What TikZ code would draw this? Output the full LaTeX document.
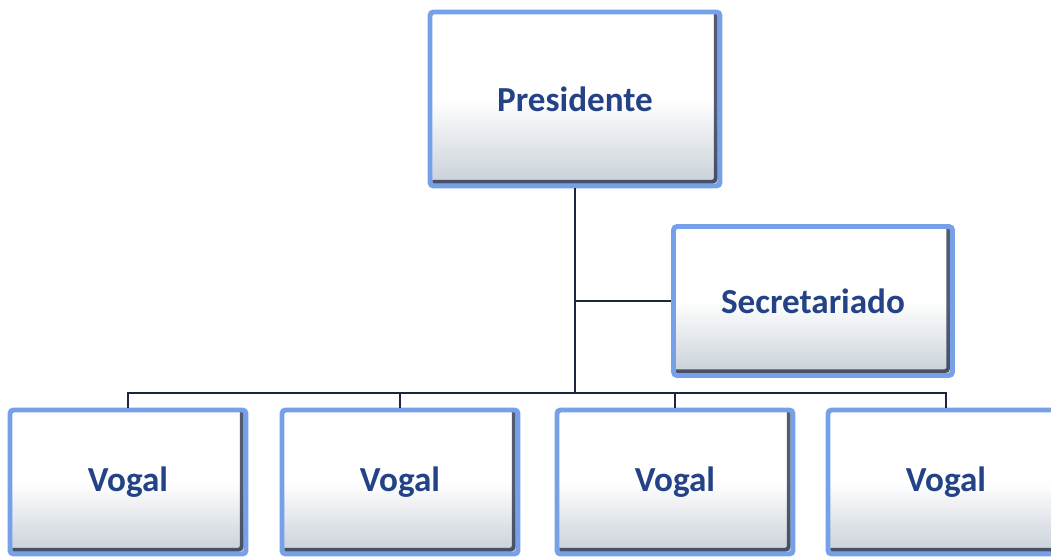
\documentclass[tikz,border=0pt]{standalone}
\usepackage{fontspec}
\setmainfont{Carlito}
\usepackage{tikz}
\usetikzlibrary{positioning}
\definecolor{glow}{RGB}{118,160,232}
\definecolor{txtblue}{RGB}{36,66,134}
\definecolor{edge}{RGB}{28,38,62}
\definecolor{boxgray}{RGB}{200,207,216}

\begin{document}
\begin{tikzpicture}[x=0.02cm,y=-0.02cm,
                    orgbox/.style={rectangle,draw=glow,line width=2.8pt,rounded corners=2pt,
                      top color=white,bottom color=boxgray,middle color=white,
                      font=\fontsize{20}{24}\selectfont\bfseries,text=txtblue,
                      path picture={\draw[edge,line width=2.2pt,opacity=.75]
                        ([shift={(-2.4pt,1.4pt)}]path picture bounding box.north east)
                        -- ([shift={(-2.4pt,2.4pt)}]path picture bounding box.south east)
                        -- ([shift={(1.4pt,2.4pt)}]path picture bounding box.south west);}},
                    link/.style={edge,line width=1.4pt}]
                \useasboundingbox (0,0) rectangle (1051,558);
                \node[orgbox,minimum width=5.8cm,minimum height=3.48cm] (pres) at (575,99) {Presidente};
                \node[orgbox,minimum width=5.58cm,minimum height=2.98cm] (secr) at (813,301) {Secretariado};
                \node[orgbox,minimum width=4.72cm,minimum height=2.88cm] (v1) at (128,482) {Vogal};
                \node[orgbox,minimum width=4.72cm,minimum height=2.88cm] (v2) at (400,482) {Vogal};
                \node[orgbox,minimum width=4.72cm,minimum height=2.88cm] (v3) at (675,482) {Vogal};
                \node[orgbox,minimum width=4.72cm,minimum height=2.88cm] (v4) at (946,482) {Vogal};
                \coordinate (bus) at (575,393);
                \draw[link] (pres.south) -- (bus);
                \draw[link] (secr.west) -- (secr.west -| bus);
                \foreach \v in {v1,v2,v3,v4}
                  \draw[link] (\v.north) |- (bus);
\end{tikzpicture}
\end{document}
